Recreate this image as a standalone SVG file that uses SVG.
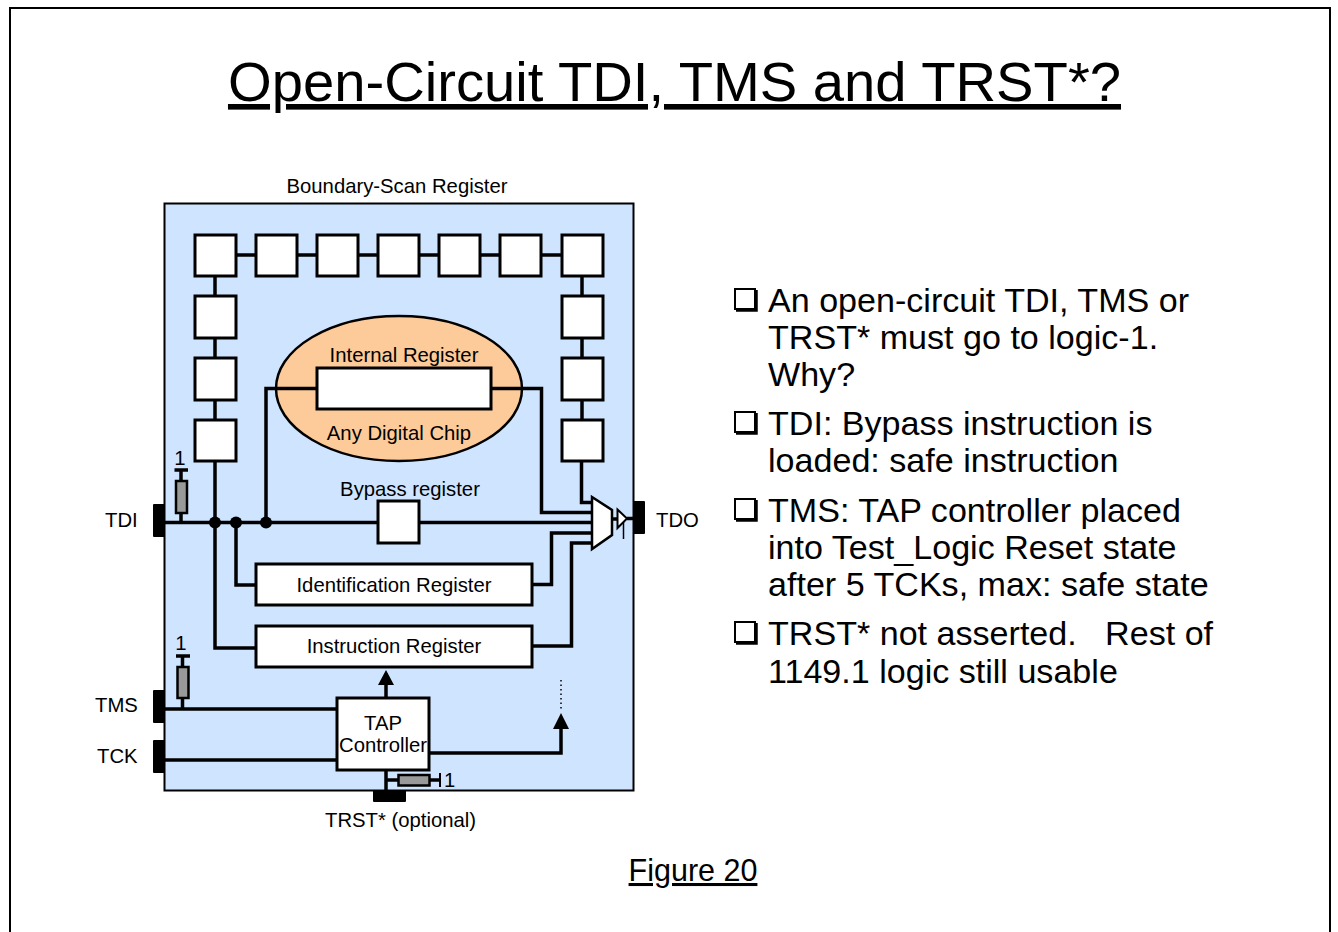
<svg xmlns="http://www.w3.org/2000/svg" width="1338" height="932" viewBox="0 0 1338 932">
<style>
text{font-family:"Liberation Sans",Arial,sans-serif;fill:#000;text-decoration-skip-ink:none}
.l{font-size:20.3px}
.b{font-size:34.1px}
.w{fill:none;stroke:#000;stroke-width:3.500}
.c{fill:#fff;stroke:#000;stroke-width:3}
.r{fill:#999;stroke:#000;stroke-width:2.5}
.p{fill:#000}
.bk{fill:#fff;stroke:#000;stroke-width:2}
.sh{fill:none;stroke:#000;stroke-width:3.5}
</style>
<rect width="1338" height="932" fill="#fff"/>
<path d="M10 932V8H1330V932" fill="none" stroke="#000" stroke-width="2"/>
<g id="title"><text x="674.500" y="101" font-size="56.200" text-anchor="middle" text-decoration="underline">Open-Circuit TDI, TMS and TRST*?</text></g>
<g id="chip"><rect x="164.500" y="203.500" width="469" height="587" fill="#cfe5ff" stroke="#000" stroke-width="2"/></g>
<text class="l" x="397" y="193" text-anchor="middle">Boundary-Scan Register</text>
<g id="any-digital-chip">
<ellipse cx="399" cy="388.500" rx="123" ry="72.500" fill="#fdcb99" stroke="#000" stroke-width="2.500"/>
<text class="l" x="404" y="362" text-anchor="middle">Internal Register</text>
<text class="l" x="399" y="440" text-anchor="middle">Any Digital Chip</text>
</g>
<g id="connectors">
<path class="w" d="M236 255H256M297 255H317M358 255H378M419 255H439M481 255H500M541 255H562M215 276V296M215 338V358M215 400V420M582 276V296M582 338V358M582 400V420"/>
<path class="w" d="M215 461V648H256M164 522.500H378M419 522.500H592M236 522V585H256M266 522V388.500H317M491 388.500H541.500V512.500H592M532 584.500H551.500V533H592M532 646H571.500V543H592M581.500 461V502.500H592"/>
<path class="w" d="M164 709H337M164 760H337M386 698V680M428 753H561V728M386 771V790"/>
<path class="w" d="M612 519H618M627 518.500H634"/>
<path d="M561 680V709" fill="none" stroke="#000" stroke-width="1.500" stroke-dasharray="1.500 3"/>
<path class="p" d="M386 670l8 15h-16zM561 713l8 16h-16z"/>
<circle class="p" cx="215" cy="522.500" r="6"/><circle class="p" cx="236" cy="522.500" r="6"/><circle class="p" cx="266" cy="522.500" r="6"/>
</g>
<g id="scan-cells">
<rect class="c" x="195" y="235" width="41" height="41"/><rect class="c" x="256" y="235" width="41" height="41"/><rect class="c" x="317" y="235" width="41" height="41"/><rect class="c" x="378" y="235" width="41" height="41"/><rect class="c" x="439" y="235" width="41" height="41"/><rect class="c" x="500" y="235" width="41" height="41"/><rect class="c" x="562" y="235" width="41" height="41"/>
<rect class="c" x="195" y="296" width="41" height="42"/><rect class="c" x="195" y="358" width="41" height="42"/><rect class="c" x="195" y="420" width="41" height="41"/>
<rect class="c" x="562" y="296" width="41" height="42"/><rect class="c" x="562" y="358" width="41" height="42"/><rect class="c" x="562" y="420" width="41" height="41"/>
</g>
<g id="internal-register"><rect class="c" x="317" y="368" width="174" height="41"/></g>
<g id="bypass"><rect class="c" x="378" y="501" width="41" height="42"/><text class="l" x="410" y="496" text-anchor="middle">Bypass register</text></g>
<g id="id-reg"><rect class="c" x="256" y="564" width="276" height="41"/><text class="l" x="394" y="592" text-anchor="middle">Identification Register</text></g>
<g id="ir"><rect class="c" x="256" y="626" width="276" height="41"/><text class="l" x="394" y="653" text-anchor="middle">Instruction Register</text></g>
<g id="tap"><rect class="c" x="337" y="698" width="92" height="72"/><text class="l" x="383" y="730" text-anchor="middle">TAP</text><text class="l" x="383" y="752" text-anchor="middle">Controller</text></g>
<g id="mux"><path d="M592 497L612 510V535L592 549Z" fill="#fff" stroke="#000" stroke-width="2.500"/><path d="M617.500 509.500L627 518.500L617.500 528Z" fill="#fff" stroke="#000" stroke-width="2"/><path d="M623.500 522V539" stroke="#000" stroke-width="1.500"/></g>
<g id="pins">
<rect class="p" x="153" y="504" width="12" height="33" rx="1"/><text class="l" x="105" y="527">TDI</text>
<rect class="p" x="633" y="501" width="12" height="33" rx="1"/><text class="l" x="656" y="527">TDO</text>
<rect class="p" x="153" y="690" width="12" height="33" rx="1"/><text class="l" x="95" y="712">TMS</text>
<rect class="p" x="153" y="740" width="12" height="33" rx="1"/><text class="l" x="97" y="763">TCK</text>
<rect class="p" x="373" y="790" width="33" height="12" rx="1"/><text class="l" x="325" y="827">TRST* (optional)</text>
</g>
<g id="pullups">
<path class="w" d="M181 522V470M174.500 470H188"/><rect class="r" x="176" y="481" width="11" height="32"/><text class="l" x="180" y="465" text-anchor="middle">1</text>
<path class="w" d="M182.500 709V656M176 656H190"/><rect class="r" x="177.500" y="667" width="11" height="31"/><text class="l" x="181" y="650" text-anchor="middle">1</text>
<path class="w" d="M386 780H440"/><path d="M440 773V787" fill="none" stroke="#000" stroke-width="2"/><rect class="r" x="398.500" y="775" width="31" height="10.500"/><text class="l" x="444" y="787">1</text>
</g>
<g id="bullets">
<g id="b1"><rect class="bk" x="735" y="289" width="20" height="20"/><path class="sh" d="M736 310H756V290"/><text class="b" x="768" y="312">An open-circuit TDI, TMS or</text><text class="b" x="768" y="349">TRST* must go to logic-1.</text><text class="b" x="768" y="386">Why?</text></g>
<g id="b2"><rect class="bk" x="735" y="412" width="20" height="20"/><path class="sh" d="M736 433H756V413"/><text class="b" x="768" y="435">TDI: Bypass instruction is</text><text class="b" x="768" y="472">loaded: safe instruction</text></g>
<g id="b3"><rect class="bk" x="735" y="499" width="20" height="20"/><path class="sh" d="M736 520H756V500"/><text class="b" x="768" y="522">TMS: TAP controller placed</text><text class="b" x="768" y="559">into Test_Logic Reset state</text><text class="b" x="768" y="596">after 5 TCKs, max: safe state</text></g>
<g id="b4"><rect class="bk" x="735" y="622" width="20" height="20"/><path class="sh" d="M736 643H756V623"/><text class="b" x="768" y="645" xml:space="preserve">TRST* not asserted.   Rest of</text><text class="b" x="768" y="683">1149.1 logic still usable</text></g>
</g>
<g id="caption"><text x="693" y="881" font-size="30.500" text-anchor="middle" text-decoration="underline">Figure 20</text></g>
</svg>
